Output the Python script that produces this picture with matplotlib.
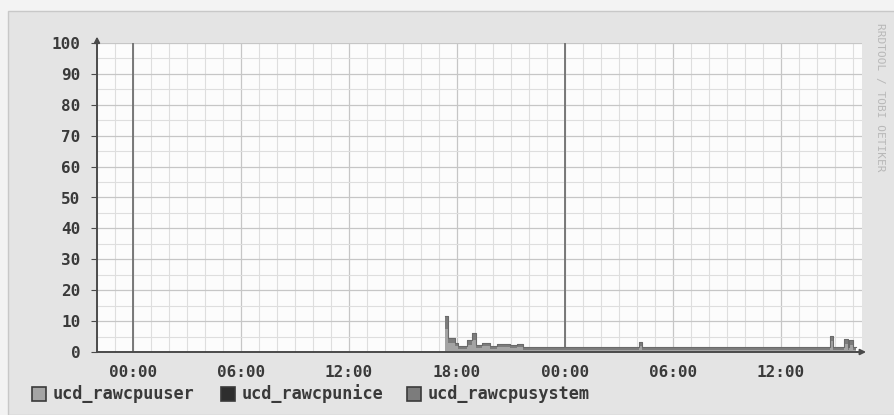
import matplotlib
matplotlib.use("Agg")
from matplotlib import pyplot as plt
from matplotlib.patches import Rectangle
from matplotlib.ticker import MultipleLocator, FixedLocator

# hours since the first midnight shown; values are percent, drawn as steps
hours = [17.33, 17.5, 17.89, 18.06, 18.56, 18.83, 19.06, 19.39, 19.83, 20.22,
         20.94, 21.33, 21.67, 28.1, 28.3, 38.7, 38.9, 39.5, 39.7, 39.8, 40.0, 40.15]
cpu_user = [7.5, 2.8, 1.8, 1.1, 2.4, 4.0, 1.3, 1.8, 1.1, 1.5,
            1.2, 1.5, 0.8, 2.0, 0.8, 3.4, 0.8, 2.6, 0.8, 2.4, 0.8, 0.8]
cpu_nice = [0.0] * len(hours)
cpu_system = [4.0, 1.7, 1.2, 0.9, 1.4, 2.2, 1.0, 1.2, 0.9, 1.1,
              1.0, 1.1, 0.7, 1.2, 0.7, 1.9, 0.7, 1.6, 0.7, 1.6, 0.7, 0.7]

series_names = ["ucd_rawcpuuser", "ucd_rawcpunice", "ucd_rawcpusystem"]
series_colors = ["#a4a4a4", "#2e2e2e", "#7c7c7c"]

tick_hours = [0, 6, 12, 18, 24, 30, 36]
tick_labels = ["00:00", "06:00", "12:00", "18:00", "00:00", "06:00", "12:00"]
day_lines = [0, 24]

W, H = 894, 415
fig = plt.figure(figsize=(W / 100, H / 100), dpi=100, facecolor="#f3f3f3")
fig.add_artist(Rectangle((8 / W, 0), 1, 1 - 11 / H, transform=fig.transFigure,
                         facecolor="#e4e4e4", edgecolor="#c8c8c8", lw=1, zorder=0))

ax = fig.add_axes([97 / W, 63 / H, 765 / W, 309 / H])
ax.set_facecolor("#fcfcfc")
ax.set_xlim(-2, 40.5)
ax.set_ylim(0, 100)

# grid
ax.xaxis.set_minor_locator(MultipleLocator(1))
ax.yaxis.set_minor_locator(MultipleLocator(5))
ax.xaxis.set_major_locator(FixedLocator(tick_hours))
ax.yaxis.set_major_locator(MultipleLocator(10))
ax.grid(which="minor", color="#dedede", lw=0.8)
ax.grid(which="major", color="#c6c6c6", lw=0.9)
ax.set_axisbelow(True)
for d in day_lines:
    ax.axvline(d, color="#707070", lw=1.3, zorder=1)

# stacked areas
base = [0.0] * len(hours)
stacks = [cpu_user, cpu_nice, cpu_system]
for vals, name, col in zip(stacks, series_names, series_colors):
    top = [b + v for b, v in zip(base, vals)]
    ax.fill_between(hours, base, top, step="post", color=col, lw=0, zorder=2)
    base = top
ax.step(hours, base, where="post", color="#6a6a6a", lw=0.8, zorder=3)

# axes with arrows
for s in ["top", "right"]:
    ax.spines[s].set_visible(False)
for s in ["left", "bottom"]:
    ax.spines[s].set_color("#4a4a4a")
    ax.spines[s].set_linewidth(1.4)
    ax.spines[s].set_zorder(4)
ax.annotate("", xy=(0, 1.03), xytext=(0, 0.99), xycoords="axes fraction",
            arrowprops=dict(arrowstyle="-|>", color="#4a4a4a", lw=1.4,
                            mutation_scale=8), annotation_clip=False)
ax.annotate("", xy=(1.009, 0), xytext=(0.99, 0), xycoords="axes fraction",
            arrowprops=dict(arrowstyle="-|>", color="#4a4a4a", lw=1.4,
                            mutation_scale=8), annotation_clip=False)

ax.set_xticklabels(tick_labels)
ax.tick_params(which="both", length=0)
ax.tick_params(axis="y", which="major", length=4, color="#4a4a4a", pad=8)
ax.tick_params(axis="x", which="major", pad=9)
for lab in ax.get_xticklabels() + ax.get_yticklabels():
    lab.set_family("DejaVu Sans Mono")
    lab.set_fontsize(11.5)
    lab.set_fontweight("bold")
    lab.set_color("#3a3a3a")

# legend row
legend_x = [32, 221, 407]
for lx, name, col in zip(legend_x, series_names, series_colors):
    fig.add_artist(Rectangle((lx / W, (H - 401) / H), 14 / W, 14 / H,
                             transform=fig.transFigure, facecolor=col,
                             edgecolor="#3a3a3a", lw=1.2))
    fig.text((lx + 21) / W, (H - 394) / H, name, family="DejaVu Sans Mono",
             fontsize=12.2, fontweight="bold", color="#3a3a3a", va="center")

fig.text(880 / W, 1 - 97 / H, "RRDTOOL / TOBI OETIKER", rotation=270,
         family="DejaVu Sans Mono", fontsize=8, color="#b8b8b8",
         ha="center", va="center")

fig.savefig("out.png", dpi=100, facecolor=fig.get_facecolor())
